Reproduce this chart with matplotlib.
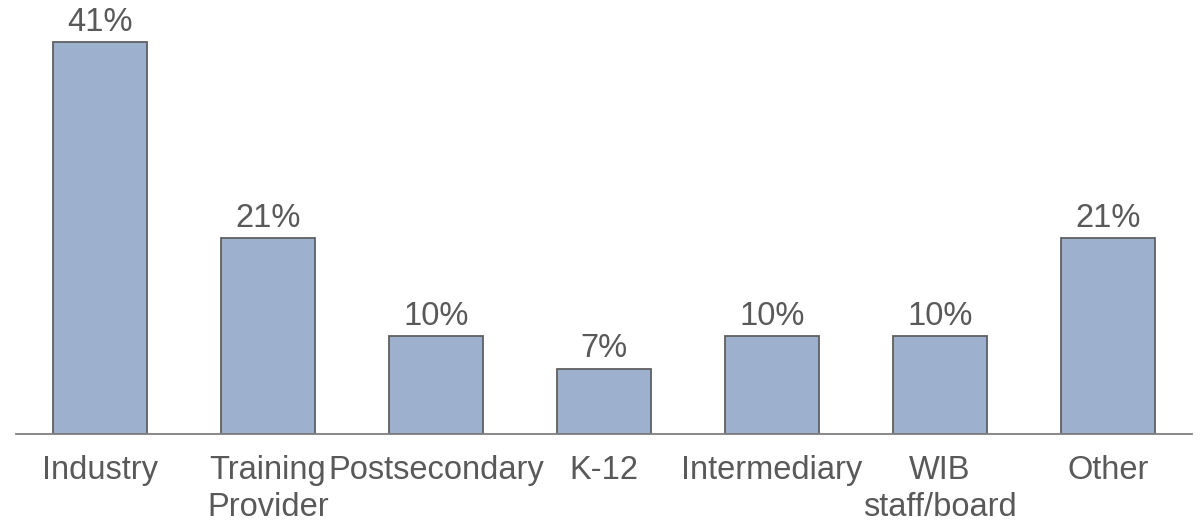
import matplotlib.pyplot as plt
import numpy as np

plt.rcParams['font.family'] = ['Liberation Sans', 'DejaVu Sans']

categories = ["Industry", "Training\nProvider", "Postsecondary", "K-12",
              "Intermediary", "WIB\nstaff/board", "Other"]
# share of 29 respondents (multi-select)
values = [41.4, 20.7, 10.3, 6.9, 10.3, 10.3, 20.7]
labels = ["41%", "21%", "10%", "7%", "10%", "10%", "21%"]

text_color = "#595959"

fig = plt.figure(figsize=(12.03, 5.23), dpi=100)
ax = fig.add_axes([16 / 1203, 89 / 523, 1176 / 1203, 434 / 523])

x = np.arange(len(categories))
bars = ax.bar(x, values, width=0.56, color="#9DB0CE", edgecolor="#606060", linewidth=1.3)

for b, lab in zip(bars, labels):
    ax.annotate(lab, (b.get_x() + b.get_width() / 2, b.get_height()),
                xytext=(0, 3), textcoords="offset points",
                ha="center", va="bottom", fontsize=23.5, color=text_color)

ax.set_xlim(-0.5, len(categories) - 0.5)
ax.set_ylim(0, 45.8)
ax.set_xticks(x)
ax.set_xticklabels(categories, fontsize=23.5, color=text_color, linespacing=1.27)
ax.tick_params(axis="x", length=0, pad=15)
ax.set_yticks([])
for s in ["top", "right", "left"]:
    ax.spines[s].set_visible(False)
ax.spines["bottom"].set_color("#7f7f7f")
ax.spines["bottom"].set_linewidth(1.3)

fig.savefig("out.png", dpi=100)
